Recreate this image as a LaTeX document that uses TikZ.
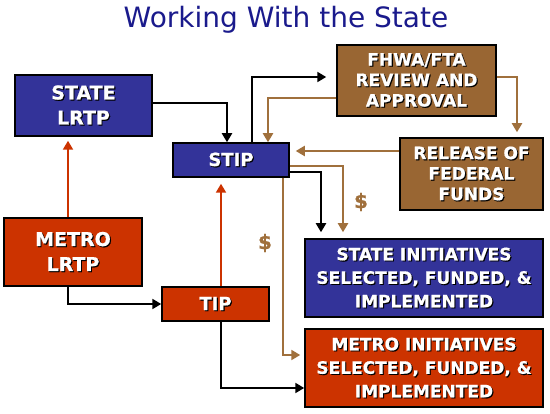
\documentclass[tikz,border=0pt]{standalone}
\usepackage{fontspec}
\setmainfont{DejaVu Sans}[BoldFeatures={FakeBold=0.8}]
\usetikzlibrary{arrows.meta}
\definecolor{boxblue}{HTML}{333399}
\definecolor{boxred}{HTML}{CC3300}
\definecolor{boxbrown}{HTML}{996633}
\definecolor{linebrown}{HTML}{A0703C}
\definecolor{titleblue}{HTML}{1A1A8C}
\newcommand\shd[1]{\leavevmode\rlap{\kern1.1pt\raisebox{-1.1pt}{\color{black}#1}}#1}
\begin{document}
\begin{tikzpicture}[x=1pt,y=-1pt,
  box/.style={draw=black,line width=1.5pt,text=white,align=center,inner sep=0pt},
  bluebox/.style={box,fill=boxblue},
  redbox/.style={box,fill=boxred},
  brownbox/.style={box,fill=boxbrown},
  big/.style={font=\bfseries\fontsize{19}{25}\selectfont},
  mid/.style={font=\bfseries\fontsize{18}{22}\selectfont},
  small/.style={font=\bfseries\fontsize{17}{23.5}\selectfont},
  smalltight/.style={font=\bfseries\fontsize{17}{20.5}\selectfont},
  tipend/.style={-{Triangle[length=9pt,width=10pt]}},
  blk/.style={tipend,draw=black,line width=2pt},
  redl/.style={tipend,draw=boxred,line width=2pt},
  brn/.style={tipend,draw=linebrown,line width=2pt},
  dollar/.style={text=linebrown,font=\bfseries\fontsize{20}{20}\selectfont,inner sep=0pt}
]
\useasboundingbox[fill=white] (0,0) rectangle (550,414);

\node[text=titleblue,font=\fontsize{28}{32}\selectfont,inner sep=0pt] (title) at (286,20) {Working With the State};

\node[bluebox,big,minimum width=137pt,minimum height=61pt] (slrtp) at (83.5,105.5) {\shd{STATE}\\\shd{LRTP}};
\node[bluebox,mid,minimum width=116pt,minimum height=34pt] (stip) at (231,160) {\shd{STIP}};
\node[redbox,big,minimum width=138pt,minimum height=68pt] (mlrtp) at (73,252) {\shd{METRO}\\\shd{LRTP}};
\node[redbox,mid,minimum width=107pt,minimum height=34pt] (tip) at (215.5,304) {\shd{TIP}};
\node[bluebox,small,minimum width=238pt,minimum height=78pt] (sinit) at (424,278) {\shd{STATE INITIATIVES}\\\shd{SELECTED, FUNDED, \&}\\\shd{IMPLEMENTED}};
\node[redbox,small,minimum width=238pt,minimum height=78pt] (minit) at (424,368) {\shd{METRO INITIATIVES}\\\shd{SELECTED, FUNDED, \&}\\\shd{IMPLEMENTED}};
\node[brownbox,smalltight,minimum width=159pt,minimum height=71pt] (fhwa) at (416.5,80.5) {\shd{FHWA/FTA}\\\shd{REVIEW AND}\\\shd{APPROVAL}};
\node[brownbox,smalltight,minimum width=143pt,minimum height=72pt] (release) at (471.5,174) {\shd{RELEASE OF}\\\shd{FEDERAL}\\\shd{FUNDS}};

\coordinate (c1) at (68,0);
\coordinate (c2) at (221,0);
\coordinate (c3) at (227,103);
\coordinate (c5) at (252,77);
\coordinate (c6) at (268,98);
\coordinate (c7) at (517,77);
\coordinate (c8) at (400,151);
\coordinate (c9) at (321,172);
\coordinate (c10) at (343,166);
\coordinate (c11) at (283,355);
\coordinate (c12) at (221,388);

\draw[blk] (slrtp.east |- c3) -| (stip.north -| c3);
\draw[redl,shorten >=4pt] (mlrtp.north -| c1) -- (slrtp.south -| c1);
\draw[redl,shorten >=6pt] (tip.north -| c2) -- (stip.south -| c2);
\draw[blk] (mlrtp.south -| c1) |- (tip.west);
\draw[blk,shorten >=10pt] (stip.north -| c5) |- (fhwa.west |- c5);
\draw[brn] (fhwa.west |- c6) -| (stip.north -| c6);
\draw[brn,shorten >=5pt] (fhwa.east |- c7) -| (release.north -| c7);
\draw[brn,shorten >=6pt] (release.west |- c8) -- (stip.east |- c8);
\draw[blk,shorten >=6pt] (stip.east |- c9) -| (sinit.north -| c9);
\draw[brn,shorten >=6pt] (stip.east |- c10) -| (sinit.north -| c10);
\draw[brn,shorten >=4pt] (stip.south -| c11) |- (minit.west |- c11);
\draw[blk] (tip.south -| c12) |- (minit.west |- c12);

\node[dollar] (d1) at (361,202) {\$};
\node[dollar] (d2) at (265,243) {\$};
\end{tikzpicture}
\end{document}
